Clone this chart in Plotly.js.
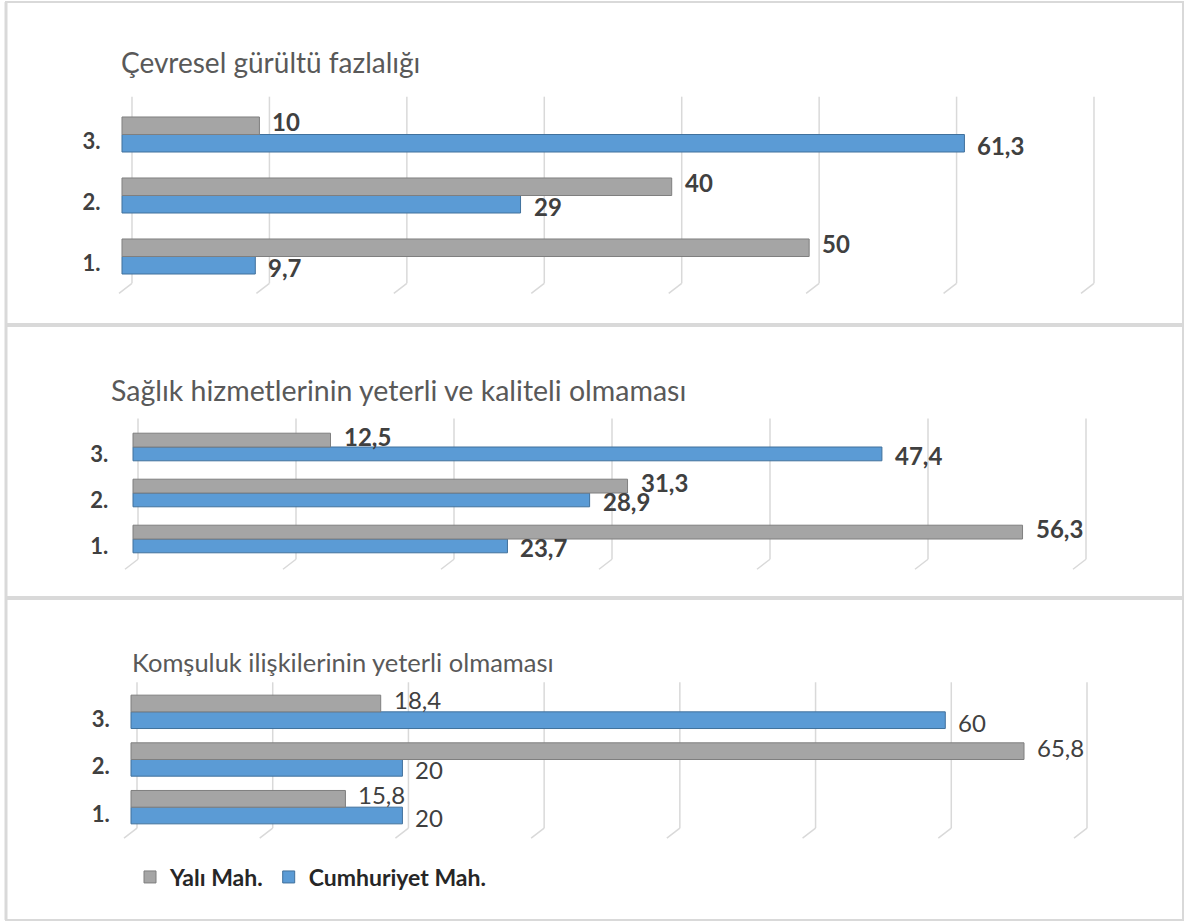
<!DOCTYPE html>
<html><head><meta charset="utf-8">
<script src="https://cdn.plot.ly/plotly-3.0.1.min.js"></script>
<style>html,body{margin:0;padding:0;background:#fff}</style>
</head><body><div id="chart" style="width:1186px;height:922px"></div>
<script>
// ---- data ----
const categories = ['1.', '2.', '3.'];
const seriesNames = ['Yalı Mah.', 'Cumhuriyet Mah.'];
const panelTitles = ['Çevresel gürültü fazlalığı', 'Sağlık hizmetlerinin yeterli ve kaliteli olmaması', 'Komşuluk ilişkilerinin yeterli olmaması'];
const yaliCevresel = [50, 40, 10];
const cumhuriyetCevresel = [9.7, 29, 61.3];
const yaliSaglik = [56.3, 31.3, 12.5];
const cumhuriyetSaglik = [23.7, 28.9, 47.4];
const yaliKomsuluk = [15.8, 65.8, 18.4];
const cumhuriyetKomsuluk = [20, 20, 60];
const axisMax = [70, 60, 70];
const gridStep = 10;

// ---- layout geometry (pixels) ----
const W = 1186, H = 922;
const px = v => v / W, py = v => 1 - v / H;
// x0: pixel of value 0, x1: pixel of value axisMax
const panels = [
  {yali: yaliCevresel, cum: cumhuriyetCevresel, x0: 122, x1: 1084, yd: [104, 287], bw: 0.287, title: [119, 62, 28], shift: 10, bold: true, standoff: 24},
  {yali: yaliSaglik, cum: cumhuriyetSaglik, x0: 133, x1: 1081, yd: [424, 562], bw: 0.30, title: [109, 390, 28.5], shift: 5, bold: true, standoff: 26},
  {yali: yaliKomsuluk, cum: cumhuriyetKomsuluk, x0: 131, x1: 1081, yd: [688, 831], bw: 0.35, title: [130, 662, 25.5], shift: 6, bold: false, standoff: 23}
];
const GRAY = '#a5a5a5', GRAY_D = '#7f7f7f', BLUE = '#5b9bd5', BLUE_D = '#41719c';
const fmt = v => String(v).replace('.', ',');

const traces = [], shapes = [], annotations = [];
const layout = {
  width: W, height: H, margin: {l: 0, r: 0, t: 0, b: 0},
  paper_bgcolor: '#ffffff', plot_bgcolor: 'rgba(0,0,0,0)',
  font: {family: 'Lato, "Open Sans", sans-serif', color: '#404040'},
  barmode: 'overlay', showlegend: true,
  legend: {orientation: 'h', x: px(130), xanchor: 'left', y: py(877), yanchor: 'middle',
           font: {family: 'Lato, sans-serif', size: 23, weight: 'bold', color: '#262626'}},
  shapes: shapes, annotations: annotations
};

panels.forEach((p, i) => {
  const n = i === 0 ? '' : String(i + 1);
  const xa = 'x' + n, ya = 'y' + n;
  const ppu = (p.x1 - p.x0) / axisMax[i];
  const lo = -1.5, hi = axisMax[i] + 2;
  const labelFont = {family: 'Lato, sans-serif', size: 24, color: '#404040', weight: p.bold ? 'bold' : 'normal'};
  traces.push({
    type: 'bar', orientation: 'h', name: seriesNames[1], legendgroup: 'c', showlegend: i === 0, legendrank: 2,
    x: p.cum, y: categories, xaxis: xa, yaxis: ya, offset: -p.bw, width: p.bw,
    marker: {color: BLUE, line: {color: BLUE_D, width: 1}}, hoverinfo: 'skip'
  });
  traces.push({
    type: 'bar', orientation: 'h', name: seriesNames[0], legendgroup: 'y', showlegend: i === 0, legendrank: 1,
    x: p.yali, y: categories, xaxis: xa, yaxis: ya, offset: 0, width: p.bw,
    marker: {color: GRAY, line: {color: GRAY_D, width: 1}}, hoverinfo: 'skip'
  });
  // value labels (placed with the axes' own scales)
  categories.forEach((c, k) => {
    annotations.push({text: fmt(p.yali[k]), xref: xa, yref: ya, x: p.yali[k], y: k + p.bw / 2,
      xanchor: 'left', yanchor: 'middle', xshift: 11, yshift: 4, showarrow: false, font: labelFont});
    annotations.push({text: fmt(p.cum[k]), xref: xa, yref: ya, x: p.cum[k], y: k - p.bw / 2,
      xanchor: 'left', yanchor: 'middle', xshift: 11, yshift: -2, showarrow: false, font: labelFont});
  });
  layout['xaxis' + n] = {
    domain: [px(p.x0 + lo * ppu), px(p.x0 + hi * ppu)], range: [lo, hi], anchor: ya,
    showgrid: false, zeroline: false, showline: false, showticklabels: false, ticks: '', fixedrange: true
  };
  layout['yaxis' + n] = {
    domain: [py(p.yd[1]), py(p.yd[0])], range: [-0.5, 2.5], anchor: xa, type: 'category',
    categoryorder: 'array', categoryarray: categories,
    showgrid: false, zeroline: false, showline: false, ticks: '', fixedrange: true,
    ticklabelstandoff: p.standoff - lo * ppu, ticklabelshift: 7,
    tickfont: {family: 'Lato, sans-serif', size: 22, weight: 'bold', color: '#404040'}
  };
  for (let v = 0; v <= axisMax[i]; v += gridStep) {
    shapes.push({type: 'line', layer: 'below', xref: xa, yref: ya + ' domain', xsizemode: 'pixel', xanchor: v,
      x0: p.shift, x1: p.shift, y0: 0.02, y1: 1.04, line: {color: '#d9d9d9', width: 1.5}});
    shapes.push({type: 'line', layer: 'below', xref: xa, yref: ya + ' domain', xsizemode: 'pixel', xanchor: v,
      ysizemode: 'pixel', yanchor: 0.02, x0: p.shift, x1: p.shift - 13, y0: 0, y1: -10, line: {color: '#d9d9d9', width: 1.5}});
  }
  annotations.push({text: panelTitles[i], xref: 'paper', yref: 'paper', x: px(p.title[0]), y: py(p.title[1]),
    xanchor: 'left', yanchor: 'middle', showarrow: false,
    font: {family: 'Lato, sans-serif', size: p.title[2], color: '#595959'}});
});

// panel frames
shapes.push({type: 'rect', xref: 'paper', yref: 'paper', x0: px(6), x1: px(1183), y0: py(920), y1: py(2), line: {color: '#d9d9d9', width: 2}, layer: 'above'});
shapes.push({type: 'line', xref: 'paper', yref: 'paper', x0: px(6), x1: px(1183), y0: py(325), y1: py(325), line: {color: '#d9d9d9', width: 4}});
shapes.push({type: 'line', xref: 'paper', yref: 'paper', x0: px(6), x1: px(1183), y0: py(598), y1: py(598), line: {color: '#d9d9d9', width: 4}});
shapes.push({type: 'line', xref: 'paper', yref: 'paper', x0: px(6), x1: px(6), y0: py(920), y1: py(2), line: {color: '#d9d9d9', width: 3}});

Plotly.newPlot('chart', traces, layout, {displayModeBar: false, staticPlot: true});
</script></body></html>
